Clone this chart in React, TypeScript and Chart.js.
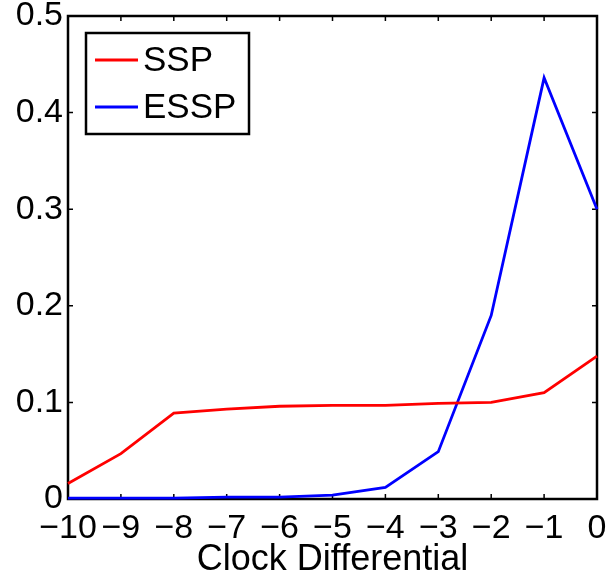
import React, { useEffect, useRef } from "react";
import { Chart, registerables } from "chart.js";

Chart.register(...registerables);

const xValues = [-10, -9, -8, -7, -6, -5, -4, -3, -2, -1, 0];
const sspValues = [0.016, 0.047, 0.089, 0.093, 0.096, 0.097, 0.097, 0.099, 0.1, 0.11, 0.148];
const esspValues = [0.001, 0.001, 0.001, 0.002, 0.002, 0.004, 0.012, 0.049, 0.19, 0.436, 0.3];
const seriesNames = ["SSP", "ESSP"];
const seriesColors = ["#ff0000", "#0000ff"];
const xTitle = "Clock Differential";

const FONT = "'Liberation Sans', Arial, Helvetica, sans-serif";

const boxPlugin = {
  id: "matlabBox",
  beforeDatasetsDraw(chart: any) {
    const { ctx, chartArea } = chart;
    const { left, right, top, bottom } = chartArea;
    const xs = chart.scales.x;
    const ys = chart.scales.y;
    ctx.save();
    ctx.strokeStyle = "#000";
    ctx.lineWidth = 1.5;
    const tl = 5;
    ctx.beginPath();
    xs.ticks.forEach((t: any) => {
      const px = xs.getPixelForValue(t.value);
      ctx.moveTo(px, bottom);
      ctx.lineTo(px, bottom - tl);
      ctx.moveTo(px, top);
      ctx.lineTo(px, top + tl);
    });
    ys.ticks.forEach((t: any) => {
      const py = ys.getPixelForValue(t.value);
      ctx.moveTo(left, py);
      ctx.lineTo(left + tl, py);
      ctx.moveTo(right, py);
      ctx.lineTo(right - tl, py);
    });
    ctx.stroke();
    ctx.lineWidth = 2.5;
    ctx.strokeRect(left, top, right - left, bottom - top);
    ctx.restore();
  },
  afterDraw(chart: any) {
    const { ctx, chartArea } = chart;
    const bx = chartArea.left + 18;
    const by = chartArea.top + 17;
    const bw = 163;
    const bh = 101;
    ctx.save();
    ctx.fillStyle = "#fff";
    ctx.fillRect(bx, by, bw, bh);
    ctx.strokeStyle = "#000";
    ctx.lineWidth = 2.5;
    ctx.strokeRect(bx, by, bw, bh);
    ctx.font = `35px ${FONT}`;
    ctx.textBaseline = "middle";
    ctx.textAlign = "left";
    seriesNames.forEach((name, i) => {
      const cy = by + 27 + i * 47;
      ctx.strokeStyle = seriesColors[i];
      ctx.lineWidth = 2.8;
      ctx.beginPath();
      ctx.moveTo(bx + 9, cy);
      ctx.lineTo(bx + 52, cy);
      ctx.stroke();
      ctx.fillStyle = "#000";
      ctx.fillText(name, bx + 57, cy + 1);
    });
    ctx.restore();
  },
};

function fmtY(v: number) {
  return String(Number(v.toFixed(1)));
}

export default function App() {
  const ref = useRef<HTMLCanvasElement | null>(null);
  useEffect(() => {
    if (!ref.current) return;
    const chart = new Chart(ref.current, {
      type: "line",
      data: {
        datasets: [
          {
            label: seriesNames[0],
            data: xValues.map((x, i) => ({ x, y: sspValues[i] })),
            borderColor: seriesColors[0],
            borderWidth: 2.8,
            pointRadius: 0,
            tension: 0,
            clip: 5,
          },
          {
            label: seriesNames[1],
            data: xValues.map((x, i) => ({ x, y: esspValues[i] })),
            borderColor: seriesColors[1],
            borderWidth: 2.8,
            pointRadius: 0,
            tension: 0,
            clip: 5,
          },
        ],
      },
      options: {
        animation: false,
        responsive: false,
        maintainAspectRatio: false,
        events: [],
        layout: { padding: { top: 16, right: 13, left: 0, bottom: 0 } },
        plugins: {
          legend: { display: false },
          tooltip: { enabled: false },
        },
        scales: {
          x: {
            type: "linear",
            min: -10,
            max: 0,
            grid: { display: false, drawTicks: false },
            border: { display: false },
            ticks: {
              stepSize: 1,
              padding: 9,
              color: "#000",
              font: { family: FONT, size: 34 },
              maxRotation: 0,
              autoSkip: false,
              callback: (v: any) => String(v).replace("-", "\u2212"),
            },
            title: {
              display: true,
              text: xTitle,
              color: "#000",
              font: { family: FONT, size: 36 },
              padding: { top: 0, bottom: -4 },
            },
            afterFit: (s: any) => {
              s.height = 79;
              s.paddingLeft = 0;
              s.paddingRight = 0;
            },
          },
          y: {
            type: "linear",
            min: 0,
            max: 0.5,
            grid: { display: false, drawTicks: false },
            border: { display: false },
            ticks: {
              stepSize: 0.1,
              padding: 5,
              color: "#000",
              font: { family: FONT, size: 34 },
              callback: (v: any) => fmtY(Number(v)),
            },
            afterFit: (s: any) => {
              s.width = 68;
              s.paddingTop = 0;
              s.paddingBottom = 0;
            },
          },
        },
      },
      plugins: [boxPlugin],
    } as any);
    return () => chart.destroy();
  }, []);
  return (
    <div style={{ position: "absolute", left: 0, top: 0, width: 610, height: 578, background: "#fff" }}>
      <canvas ref={ref} width={610} height={578} style={{ width: 610, height: 578 }} />
    </div>
  );
}
